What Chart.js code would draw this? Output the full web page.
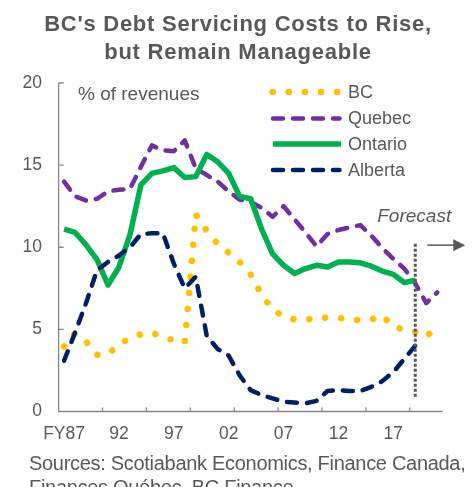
<!DOCTYPE html>
<html lang="en">
<head>
<meta charset="utf-8">
<title>BC's Debt Servicing Costs to Rise, but Remain Manageable</title>
<script src="https://cdn.jsdelivr.net/npm/chart.js@4.4.1/dist/chart.umd.min.js"></script>
<style>
    html, body { margin: 0; padding: 0; background: #fff; }
    #wrap {
        position: relative; width: 476px; height: 487px; overflow: hidden;
        font-family: "Liberation Sans", Arial, sans-serif; color: #595959;
    }
    #debtChart { position: absolute; left: 0; top: 0; }
    #title {
        position: absolute; left: 0; top: 10px; width: 476px; text-align: center;
        font-weight: bold; font-size: 22px; line-height: 28px; letter-spacing: 0.75px;
    }
    #sources {
        position: absolute; left: 29px; top: 451px; white-space: nowrap;
        font-size: 20px; line-height: 24px; letter-spacing: -0.3px;
    }
</style>
</head>
<body>
<div id="wrap">
    <canvas id="debtChart" width="476" height="487"></canvas>
    <div id="title">BC's Debt Servicing Costs to Rise,<br>but Remain Manageable</div>
    <div id="sources">Sources: Scotiabank Economics, Finance Canada,<br>Finances Québec. BC Finance.</div>
</div>

<script>
// --- DATA (interest costs, % of revenues, by fiscal year) ---
const CATEGORIES = ['FY87', '88', '89', '90', '91', '92', '93', '94', '95', '96', '97', '98', '99',
    '00', '01', '02', '03', '04', '05', '06', '07', '08', '09', '10', '11', '12', '13', '14', '15',
    '16', '17', '18', '19', '20', '21'];
const TICK_LABELS = ['FY87', '92', '97', '02', '07', '12', '17'];

const BC = [3.95, 4.75, 4.25, 3.45, 3.5, 4.05, 4.5, 4.7, 4.8, 4.5, 4.35, 4.2, 12.0, 11.0, 10.2,
    9.65, 9.1, 8.35, 7.1, 6.2, 5.8, 5.6, 5.55, 5.75, 5.7, 5.7, 5.6, 5.55, 5.6, 5.85, 5.15, 5.0,
    4.85, 4.55, 5.2];
const QUEBEC = [14.0, 13.1, 12.85, 12.95, 13.4, 13.5, 13.55, 14.9, 16.2, 15.9, 15.85, 16.5, 14.8,
    14.4, 14.0, 13.4, 12.9, 12.75, 12.4, 11.85, 12.5, 11.7, 10.9, 10.05, 10.8, 11.05, 11.2, 11.35,
    10.7, 9.95, 9.3, 8.7, 7.8, 6.6, 7.25];
const ONTARIO = [11.1, 10.9, 10.15, 9.25, 7.7, 8.8, 10.75, 13.8, 14.5, 14.65, 14.85, 14.25, 14.3,
    15.65, 15.2, 14.5, 13.1, 12.95, 11.1, 9.6, 8.9, 8.4, 8.7, 8.9, 8.8, 9.1, 9.1, 9.05, 8.85, 8.55,
    8.35, 7.85, 8.0];
const ALBERTA = [3.1, 4.8, 6.6, 8.6, 9.1, 9.5, 10.0, 10.8, 10.85, 10.85, 9.0, 7.5, 8.2, 4.6, 3.8,
    3.4, 2.2, 1.3, 1.0, 0.8, 0.6, 0.55, 0.5, 0.65, 1.25, 1.3, 1.25, 1.25, 1.5, 1.85, 2.4, 3.2, 4.0];

// forecast marker: first forecast year and the span of the dotted divider
const FORECAST_YEAR = 'FY19';
const FORECAST_KEY = '19';
const FORECAST_SPAN = [0.9, 10.25];

// --- STYLE ---
const FONT = '"Liberation Sans", Arial, sans-serif';
const TEXT_COLOR = '#595959';
const AXIS_COLOR = '#868686';

const SERIES = [
    { label: 'BC', data: BC, color: '#FFC000', width: 6.5, dash: [0.1, 16], order: 4 },
    { label: 'Quebec', data: QUEBEC, color: '#7030A0', width: 4.5, dash: [10, 10], order: 3 },
    { label: 'Ontario', data: ONTARIO, color: '#00B050', width: 5.5, dash: [], order: 2 },
    { label: 'Alberta', data: ALBERTA, color: '#002060', width: 4.5, dash: [10, 10], order: 1 }
];

// Axis lines with inside tick marks, drawn under the series
const axesPlugin = {
    id: 'insideAxes',
    beforeDatasetsDraw(chart) {
        const { ctx, chartArea: area, scales: { x, y } } = chart;
        const step = x.width / CATEGORIES.length;
        ctx.save();
        ctx.strokeStyle = AXIS_COLOR;
        ctx.lineWidth = 1.3;
        ctx.beginPath();
        ctx.moveTo(area.left, area.top);
        ctx.lineTo(area.left, area.bottom);
        ctx.lineTo(area.right, area.bottom);
        [0, 5, 10, 15, 20].forEach(v => {
            const py = y.getPixelForValue(v);
            ctx.moveTo(area.left, py);
            ctx.lineTo(area.left + 5, py);
        });
        for (let k = 4; k < CATEGORIES.length; k += 4) {
            const px = x.left + k * step;
            ctx.moveTo(px, area.bottom);
            ctx.lineTo(px, area.bottom - 4);
        }
        ctx.stroke();
        ctx.restore();
    }
};

// Unit note, legend and forecast arrow
const notesPlugin = {
    id: 'notes',
    afterDraw(chart) {
        const { ctx, scales: { x, y } } = chart;
        ctx.save();
        ctx.fillStyle = TEXT_COLOR;
        ctx.textBaseline = 'middle';
        ctx.font = `19px ${FONT}`;
        ctx.fillText('% of revenues', 78, 95);

        // legend
        ctx.font = `18px ${FONT}`;
        SERIES.forEach((s, i) => {
            const rowY = [92, 118.5, 144, 170][i];
            ctx.save();
            ctx.strokeStyle = s.color;
            ctx.lineWidth = s.width;
            ctx.lineCap = s.dash.length ? 'round' : 'butt';
            ctx.setLineDash(s.dash);
            ctx.beginPath();
            if (s.label === 'BC') {
                ctx.moveTo(272.7, rowY);
                ctx.lineTo(337.5, rowY);
            } else {
                ctx.moveTo(273, rowY);
                ctx.lineTo(s.dash.length ? 339.5 : 341, rowY);
            }
            ctx.stroke();
            ctx.restore();
            ctx.fillText(s.label, 348, rowY + 1);
        });

        // forecast note and arrow
        const fx = x.getPixelForValue(CATEGORIES.indexOf(FORECAST_KEY));
        ctx.font = `italic 19px ${FONT}`;
        ctx.fillText('Forecast', fx - 38, 217);
        const ay = y.getPixelForValue(FORECAST_SPAN[1]) + 2;
        ctx.strokeStyle = TEXT_COLOR;
        ctx.lineWidth = 1.5;
        ctx.beginPath();
        ctx.moveTo(fx + 12, ay);
        ctx.lineTo(fx + 40, ay);
        ctx.stroke();
        ctx.beginPath();
        ctx.moveTo(fx + 38, ay - 6);
        ctx.lineTo(fx + 50, ay);
        ctx.lineTo(fx + 38, ay + 6);
        ctx.closePath();
        ctx.fill();
        ctx.restore();
    }
};

const datasets = SERIES.map(s => ({
    label: s.label,
    data: s.data,
    borderColor: s.color,
    borderWidth: s.width,
    borderDash: s.dash,
    borderCapStyle: s.dash.length ? 'round' : 'butt',
    borderJoinStyle: 'round',
    pointRadius: 0,
    tension: 0,
    fill: false,
    order: s.order
}));

datasets.push({
    label: FORECAST_YEAR,
    data: FORECAST_SPAN.map(v => ({ x: FORECAST_KEY, y: v })),
    borderColor: TEXT_COLOR,
    borderWidth: 3,
    borderDash: [3, 2],
    pointRadius: 0,
    fill: false,
    order: 0
});

new Chart(document.getElementById('debtChart'), {
    type: 'line',
    data: { labels: CATEGORIES, datasets },
    options: {
        responsive: false,
        devicePixelRatio: 1,
        animation: false,
        layout: { padding: { top: 83, right: 33.3, bottom: 0, left: 0 } },
        plugins: {
            legend: { display: false },
            tooltip: { enabled: false }
        },
        scales: {
            x: {
                type: 'category',
                offset: true,
                grid: { display: false, drawTicks: false },
                border: { display: false },
                ticks: {
                    autoSkip: false,
                    maxRotation: 0,
                    padding: 12,
                    color: TEXT_COLOR,
                    font: { family: FONT, size: 17.5 },
                    callback(value) {
                        const label = this.getLabelForValue(value);
                        return TICK_LABELS.includes(label) ? label : '';
                    }
                },
                afterFit(scale) { scale.height = 75.5; }
            },
            y: {
                min: 0,
                max: 20,
                grid: { display: false, drawTicks: false },
                border: { display: false },
                ticks: {
                    stepSize: 5,
                    padding: 16.6,
                    color: TEXT_COLOR,
                    font: { family: FONT, size: 17.5 }
                },
                afterFit(scale) { scale.width = 58.6; }
            }
        }
    },
    plugins: [axesPlugin, notesPlugin]
});
</script>
</body>
</html>
